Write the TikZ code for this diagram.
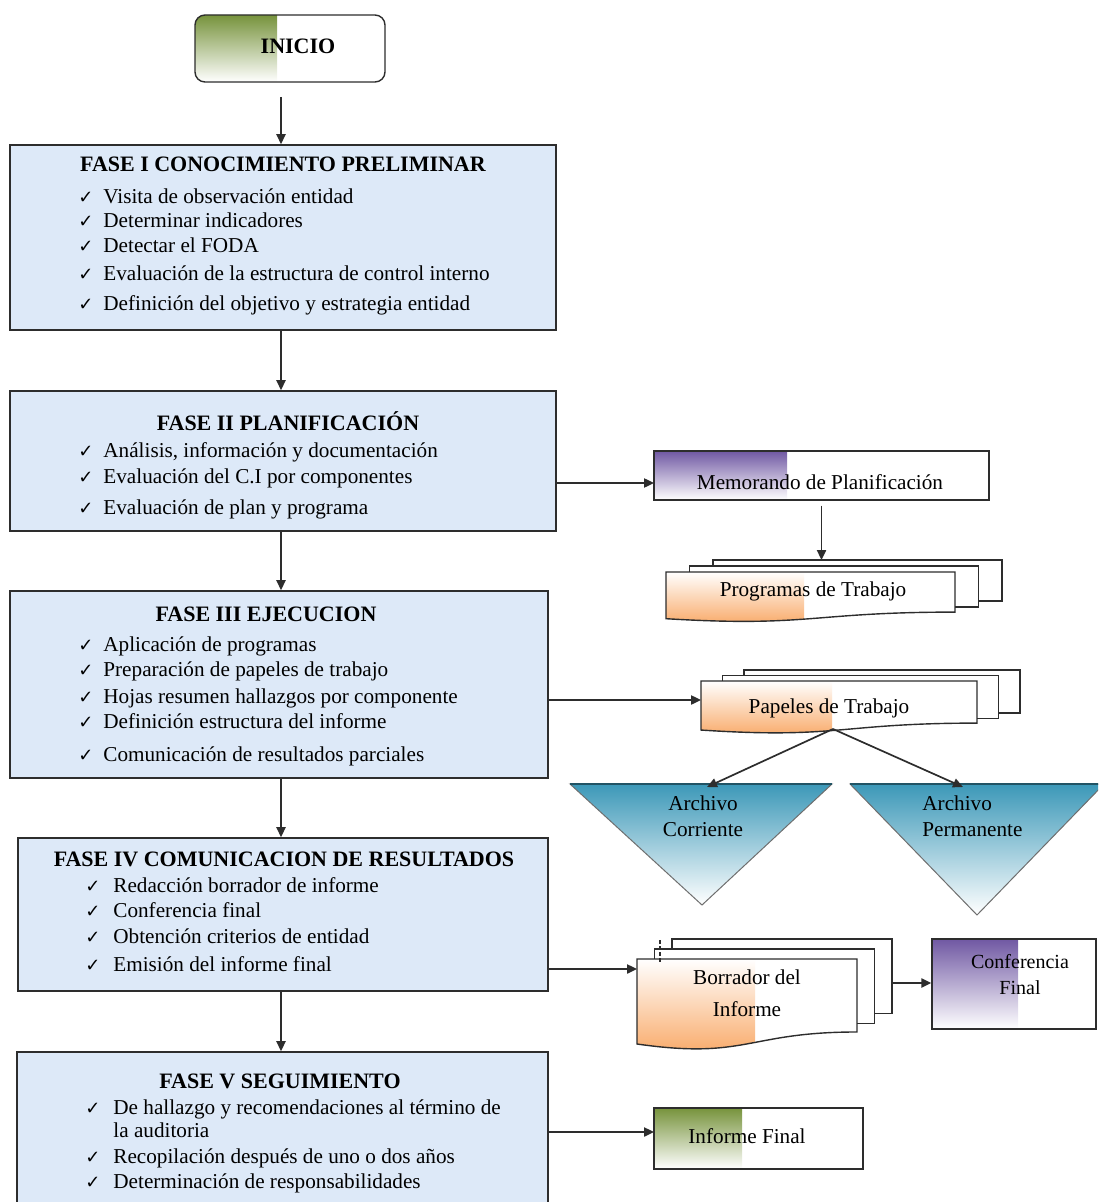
\documentclass[tikz,border=0pt]{standalone}
\usepackage{fontspec}
\setmainfont{Liberation Serif}
\newfontfamily\tickfont{DejaVu Sans}
\usetikzlibrary{arrows.meta,fit}

\definecolor{borde}{RGB}{45,45,45}
\definecolor{gris}{RGB}{110,110,110}
\definecolor{celeste}{RGB}{221,233,248}
\definecolor{verde}{RGB}{119,147,60}
\definecolor{morado}{RGB}{112,88,163}
\definecolor{naranja}{RGB}{247,150,70}
\definecolor{agua}{RGB}{60,152,184}

\newcommand{\marca}[1][12.5pt]{\makebox[#1][l]{\tickfont\fontsize{9}{9}\selectfont ✓}}

\tikzset{
  fase/.style={draw=borde,line width=0.8pt,fill=celeste,inner sep=0pt},
  caja/.style={draw=borde,line width=0.7pt,inner sep=0pt},
  hoja/.style={draw=borde,line width=0.7pt,fill=white},
  flecha/.style={draw=borde,line width=0.85pt,-{Triangle[length=5pt,width=4.6pt]}},
  titulo/.style={anchor=base,inner sep=0pt,font=\fontsize{11}{13}\selectfont\bfseries},
  punto/.style={anchor=base west,inner sep=0pt},
  rotulo/.style={inner sep=0pt,align=center},
}

\begin{document}
\begin{tikzpicture}[x=0.5pt,y=-0.5pt,font=\fontsize{10.6}{13}\selectfont]
  \clip (0,0) rectangle (1098,1202);

  % inicio
  \begin{scope}
    \clip[rounded corners=5pt] (195,15) rectangle (385,82);
    \shade[top color=verde,bottom color=white] (195,15) rectangle (277,82);
  \end{scope}
  \node[caja,rounded corners=5pt,fit={(195,15) (385,82)}] (inicio) {};
  \node[titulo] (iniciot) at (298,54) {INICIO};

  % fases
  \foreach \nm/\xa/\ya/\xb/\yb in {f1/10/145/556/330, f2/10/391/556/531,
      f3/10/591/548/778, f4/18/838/548/991, f5/17/1052/548/1216}
    \node[fase,fit={(\xa,\ya) (\xb,\yb)}] (\nm) {};

  \node[titulo] (t1) at (283,172) {FASE I CONOCIMIENTO PRELIMINAR};
  \node[titulo] (t2) at (288,431) {FASE II PLANIFICACIÓN};
  \node[titulo] (t3) at (266,621) {FASE III EJECUCION};
  \node[titulo] (t4) at (284,866) {FASE IV COMUNICACION DE RESULTADOS};
  \node[titulo] (t5) at (280,1088) {FASE V SEGUIMIENTO};

  \foreach \ty/\tx [count=\i] in {204/Visita de observación entidad,
      228/Determinar indicadores, 253/Detectar el FODA,
      281/Evaluación de la estructura de control interno,
      311/Definición del objetivo y estrategia entidad}
    \node[punto] (f1i\i) at (78,\ty) {\marca\tx};
  \foreach \ty/\tx [count=\i] in {458/{Análisis, información y documentación},
      484/Evaluación del C.I por componentes, 514/Evaluación de plan y programa}
    \node[punto] (f2i\i) at (78,\ty) {\marca\tx};
  \foreach \ty/\tx [count=\i] in {651/Aplicación de programas,
      676/Preparación de papeles de trabajo, 703/Hojas resumen hallazgos por componente,
      728/Definición estructura del informe, 761/Comunicación de resultados parciales}
    \node[punto] (f3i\i) at (78,\ty) {\marca\tx};
  \foreach \ty/\tx [count=\i] in {892/Redacción borrador de informe,
      917/Conferencia final, 943/Obtención criterios de entidad,
      971/Emisión del informe final}
    \node[punto] (f4i\i) at (85,\ty) {\marca[14pt]\tx};
  \foreach \ty/\tx [count=\i] in {1114/De hallazgo y recomendaciones al término de,
      1163/Recopilación después de uno o dos años,
      1188/Determinación de responsabilidades}
    \node[punto] (f5i\i) at (85,\ty) {\marca[14pt]\tx};
  \node[punto] (f5la) at (113,1137) {la auditoria};

  % memorando
  \shade[top color=morado,bottom color=white] (654,451) rectangle (787,500);
  \node[caja,fit={(654,451) (989,500)}] (memo) {};
  \node[anchor=base,inner sep=0pt] (memot) at (820,489) {Memorando de Planificación};

  % pilas de hojas
  \foreach \px/\py/\ww/\hh/\dx/\dy/\pw/\nm in {666/572/289/50/23.5/6/138/prog,
      701/681/276/52.5/21.5/5.5/131/pap, 637/959/220/91/17.5/10/118/bor}
  {
    \begin{scope}[shift={(\px,\py)}]
      \draw[hoja] (2*\dx,-2*\dy) rectangle ++(\ww,0.82*\hh);
      \draw[hoja] (\dx,-\dy) rectangle ++(\ww,0.82*\hh);
      \begin{scope}
        \clip (0,0) -- (\ww,0) -- (\ww,0.802*\hh) .. controls (0.5*\ww,0.802*\hh)
          and (0.5*\ww,1.1075*\hh) .. (0,0.934*\hh) -- cycle;
        \fill[white] (0,0) rectangle (\ww,1.2*\hh);
        \shade[top color=white,bottom color=naranja!85] (0,0) rectangle (\pw,1.1*\hh);
      \end{scope}
      \draw[borde,line width=0.7pt] (0,0) -- (\ww,0) -- (\ww,0.802*\hh)
        .. controls (0.5*\ww,0.802*\hh) and (0.5*\ww,1.1075*\hh) .. (0,0.934*\hh) -- cycle;
      \coordinate (\nm-top) at (2*\dx,-2*\dy);
    \end{scope}
  }
  \draw[borde,line width=1.2pt,dash pattern=on 2pt off 1pt] (660,940) -- (660,963);

  \node[anchor=base,inner sep=0pt] (prog) at (813,596) {Programas de Trabajo};
  \node[anchor=base,inner sep=0pt] (pap) at (829,713) {Papeles de Trabajo};
  \node[rotulo] (bor) at (747,993) {Borrador del\\[3pt]Informe};

  % archivos
  \shadedraw[top color=agua,bottom color=white,draw=gris,line width=0.5pt]
    (570,784) -- (832,784) -- (702,905) -- cycle;
  \shadedraw[top color=agua,bottom color=white,draw=gris,line width=0.5pt]
    (850,784) -- (1104,784) -- (977,915) -- cycle;
  \draw[agua!55!black,line width=1pt] (570,784) -- (832,784) (850,784) -- (1104,784);
  \node[rotulo] (corr) at (703,816) {Archivo\\Corriente};
  \node[rotulo,align=left,anchor=west] (perm) at (922,816) {Archivo\\Permanente};

  % conferencia final
  \shade[top color=morado,bottom color=white] (932,939) rectangle (1018,1029);
  \node[caja,fit={(932,939) (1096,1029)}] (conf) {};
  \node[rotulo,font=\fontsize{10}{13}\selectfont] (conft) at (1020,975) {Conferencia\\Final};

  % informe final
  \shade[top color=verde,bottom color=white] (654,1108) rectangle (742,1169);
  \node[caja,fit={(654,1108) (863,1169)}] (final) {};
  \node[anchor=base,inner sep=0pt] (finalt) at (747,1143) {Informe Final};

  % conectores
  \coordinate (eje) at (281,97);
  \draw[flecha] (eje) -- (eje |- f1.north);
  \foreach \a/\b in {f1/f2, f2/f3, f3/f4, f4/f5}
    \draw[flecha] (eje |- \a.south) -- (eje |- \b.north);
  \coordinate (memoin) at (654,483);
  \draw[flecha] (memoin -| f2.east) -- (memoin);
  \coordinate (memoout) at ([yshift=-2.5pt]memo.south);
  \draw[flecha] (memoout) -- (memoout |- prog-top);
  \coordinate (papin) at (701,700);
  \draw[flecha] (papin -| f3.east) -- (papin);
  \coordinate (papout) at (833,729);
  \coordinate (corrin) at (707,787);
  \coordinate (permin) at (963,787);
  \draw[flecha] (papout) -- (corrin);
  \draw[flecha] (papout) -- (permin);
  \coordinate (borin) at (637,969);
  \draw[flecha] (borin -| f4.east) -- (borin);
  \coordinate (borout) at (892,983);
  \draw[flecha] (borout) -- (borout -| conf.west);
  \coordinate (finalin) at (654,1132);
  \draw[flecha] (finalin -| f5.east) -- (finalin);
\end{tikzpicture}
\end{document}
